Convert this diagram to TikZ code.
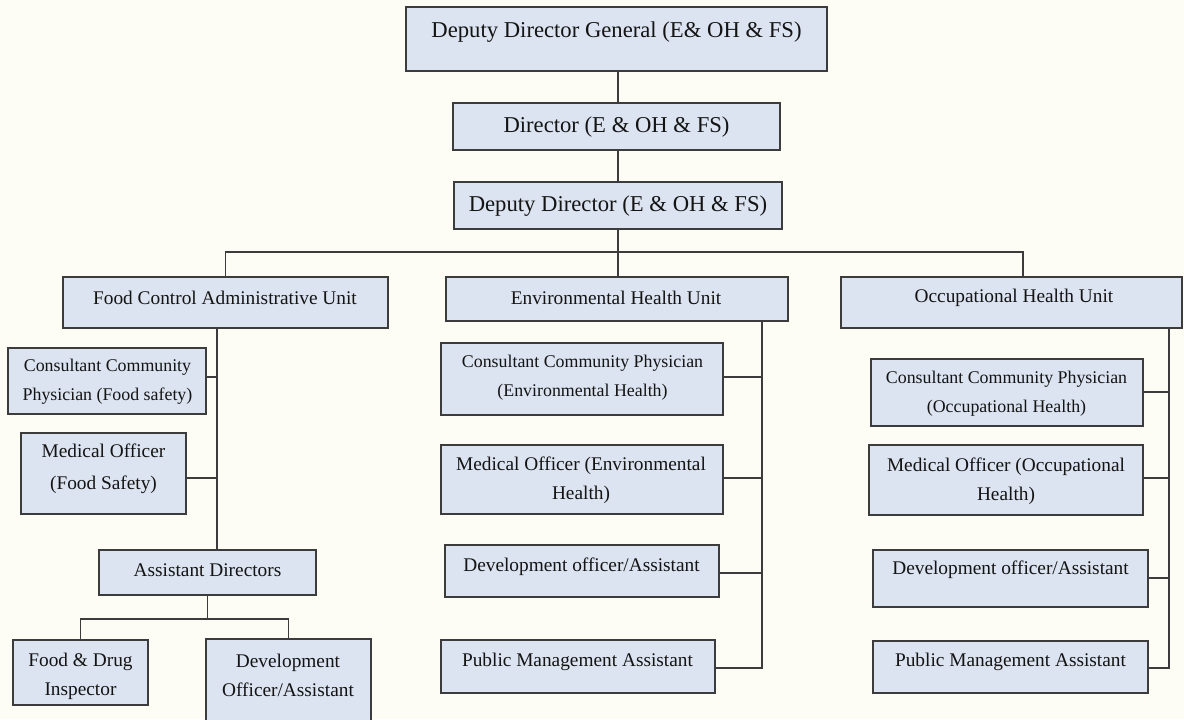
\documentclass[tikz,border=0pt]{standalone}
\usepackage{fontspec}
\setmainfont{Liberation Serif}
\usetikzlibrary{fit}
\definecolor{boxfill}{HTML}{DCE4F1}
\definecolor{bgc}{HTML}{FDFDF6}
\definecolor{edgec}{HTML}{3C3C3C}
\begin{document}
\begin{tikzpicture}[x=0.75pt,y=-0.75pt,
  box/.style={draw=edgec, fill=boxfill, line width=1.5pt, inner sep=0pt},
  conn/.style={draw=edgec, line width=1.1pt},
  bigt/.style={inner sep=0pt, align=center, text=black!92, font=\fontsize{17}{22}\selectfont},
  midt/.style={inner sep=0pt, align=center, text=black!92, font=\fontsize{14.5}{21.75}\selectfont},
  smlt/.style={inner sep=0pt, align=center, text=black!92, font=\fontsize{13.4}{21.5}\selectfont}]
\useasboundingbox (0,0) rectangle (1184,719);
\fill[bgc] (0,0) rectangle (1184,719);
\clip (0,0) rectangle (1184,719);

% top chain
\node[box, fit={(406,7) (827,71)}] (ddg) {};
\node[box, fit={(453,103) (780,150)}] (dir) {};
\node[box, fit={(454,182) (782,229)}] (dd) {};
\node[bigt] (ddgT) at (616.5,32) {Deputy Director General (E\& OH \& FS)};
\node[bigt] (dirT) at (616.5,127) {Director (E \& OH \& FS)};
\node[bigt] (ddT) at (618,206) {Deputy Director (E \& OH \& FS)};

% units
\node[box, fit={(63,277) (388,328)}] (fcu) {};
\node[box, fit={(446,277) (788,321)}] (ehu) {};
\node[box, fit={(841,277) (1182,328)}] (ohu) {};
\node[midt] (fcuT) at (225,298) {Food Control Administrative Unit};
\node[midt] (ehuT) at (616,298) {Environmental Health Unit};
\node[midt] (ohuT) at (1014,298) {Occupational Health Unit};

% food control branch
\node[box, fit={(8,348) (206,414)}] (ccpf) {};
\node[box, fit={(21,433) (186,514)}] (mof) {};
\node[box, fit={(99,550) (316,595)}] (ad) {};
\node[box, fit={(13,640) (148,705)}] (fdi) {};
\node[box, fit={(206,639) (371,724)}] (doa) {};
\node[smlt] (ccpfT) at (107.5,382) {Consultant Community\\Physician (Food safety)};
\node[midt, font=\fontsize{14.5}{24}\selectfont] (mofT) at (103.5,469) {Medical Officer\\(Food Safety)};
\node[midt] (adT) at (207.5,570) {Assistant Directors};
\node[midt] (fdiT) at (80.5,676) {Food \& Drug\\Inspector};
\node[midt] (doaT) at (288,675.5) {Development\\Officer/Assistant};

% environmental branch
\node[box, fit={(441,343) (723,415)}] (ccpe) {};
\node[box, fit={(441,445) (723,514)}] (moe) {};
\node[box, fit={(445,545) (719,597)}] (doe) {};
\node[box, fit={(441,640) (715,693)}] (pme) {};
\node[smlt] (ccpeT) at (582.5,377.5) {Consultant Community Physician\\(Environmental Health)};
\node[midt] (moeT) at (581,480.5) {Medical Officer (Environmental\\Health)};
\node[midt] (doeT) at (581.5,567) {Development officer/Assistant};
\node[midt] (pmeT) at (577.5,662) {Public Management Assistant};

% occupational branch
\node[box, fit={(871,359) (1143,426)}] (ccpo) {};
\node[box, fit={(869,445) (1143,515)}] (moo) {};
\node[box, fit={(873,550) (1148,607)}] (doo) {};
\node[box, fit={(873,641) (1148,693)}] (pmo) {};
\node[smlt] (ccpoT) at (1006.5,394) {Consultant Community Physician\\(Occupational Health)};
\node[midt] (mooT) at (1006,481) {Medical Officer (Occupational\\Health)};
\node[midt] (dooT) at (1010.5,570) {Development officer/Assistant};
\node[midt] (pmoT) at (1010.5,662) {Public Management Assistant};

% connectors: top chain (vertical spine at x = 618)
\coordinate (bus) at (618,252);
\draw[conn] (ddg.south -| bus) -- (dir.north -| bus);
\draw[conn] (dir.south -| bus) -- (dd.north -| bus);
\draw[conn] (dd.south -| bus) -- (bus);
\draw[conn] (bus) -| (fcu.north);
\draw[conn] (bus) -- (bus |- ehu.north);
\draw[conn] (bus) -| ([xshift=8.6pt]ohu.north);

% food control connectors
\coordinate (fs) at (217,0);
\draw[conn] (fcu.south -| fs) -- (ad.north -| fs);
\draw[conn] (ccpf.east |- 0,377) -- (fs |- 0,377);
\draw[conn] (mof.east |- 0,478) -- (fs |- 0,478);
\coordinate (adj) at (207.5,619);
\draw[conn] (ad.south) -- (adj);
\draw[conn] (fdi.north) |- (adj) -| (doa.north);

% environmental connectors
\coordinate (es) at (762,0);
\draw[conn] (ehu.south -| es) -- (es |- 0,668) -- (pme.east |- 0,668);
\draw[conn] (ccpe.east |- 0,377) -- (es |- 0,377);
\draw[conn] (moe.east |- 0,478) -- (es |- 0,478);
\draw[conn] (doe.east |- 0,573) -- (es |- 0,573);

% occupational connectors
\coordinate (os) at (1169,0);
\draw[conn] (ohu.south -| os) -- (os |- 0,668) -- (pmo.east |- 0,668);
\draw[conn] (ccpo.east |- 0,392) -- (os |- 0,392);
\draw[conn] (moo.east |- 0,478) -- (os |- 0,478);
\draw[conn] (doo.east |- 0,578) -- (os |- 0,578);
\end{tikzpicture}
\end{document}
